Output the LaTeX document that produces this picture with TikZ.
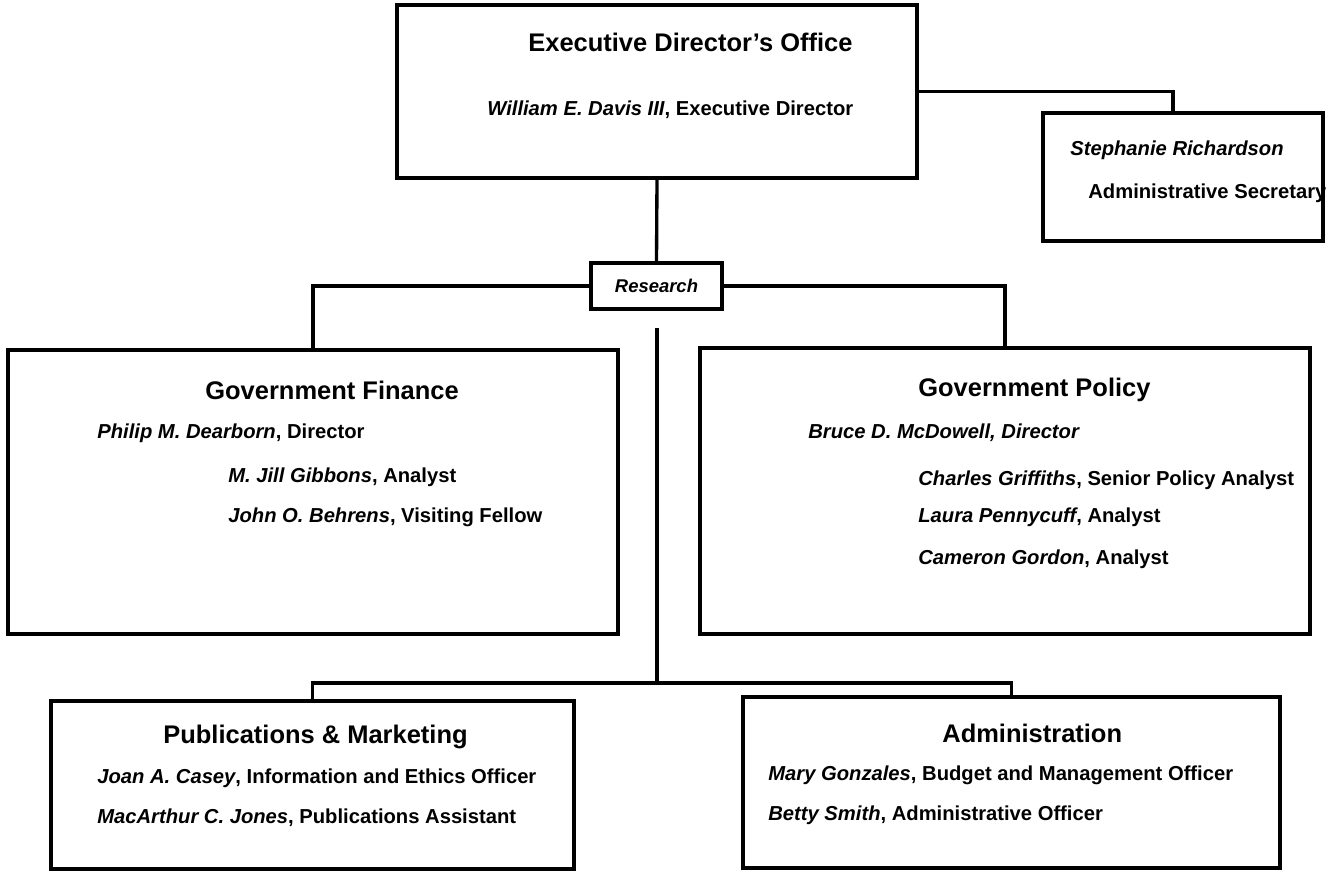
\documentclass[tikz,border=0pt]{standalone}
\usepackage{fontspec}
\setmainfont{Liberation Sans}
\begin{document}
\begin{tikzpicture}[
	x=0.02cm, y=-0.02cm,
	unit/.style={shape=rectangle, draw=black, line width=2.1pt, inner sep=0pt},
	head/.style={anchor=west, inner sep=0pt, font=\bfseries\fontsize{14.5}{17}\selectfont},
	staff/.style={anchor=west, inner sep=0pt, font=\bfseries\fontsize{11.5}{14}\selectfont},
	link/.style={line width=1.9pt},
]
\useasboundingbox (0,0) rectangle (1332,871);

\node[unit, minimum width=10.4cm, minimum height=3.46cm] (exec) at (657,91.5) {};
\node[unit, minimum width=5.6cm, minimum height=2.56cm] (sec) at (1183,177) {};
\node[unit, minimum width=2.62cm, minimum height=0.92cm, font=\bfseries\itshape\fontsize{10.5}{12}\selectfont] (research) at (656.5,286) {Research};
\node[unit, minimum width=12.2cm, minimum height=5.68cm] (govfin) at (313,492) {};
\node[unit, minimum width=12.2cm, minimum height=5.72cm] (govpol) at (1005,491) {};
\node[unit, minimum width=10.46cm, minimum height=3.36cm] (pub) at (312.5,785) {};
\node[unit, minimum width=10.74cm, minimum height=3.42cm] (admin) at (1011.5,782.5) {};

\node[head] (exectitle) at (528,42) {Executive Director's Office};
\node[staff] (exec1) at (487,110) {\textit{William E. Davis III}, Executive Director};
\node[staff] (sec1) at (1070,150) {\textit{Stephanie Richardson}};
\node[staff] (sec2) at (1088,193) {Administrative Secretary};

\node[head] (fintitle) at (205,390) {Government Finance};
\node[staff] (fin1) at (97,433) {\textit{Philip M. Dearborn}, Director};
\node[staff] (fin2) at (228,477) {\textit{M. Jill Gibbons}, Analyst};
\node[staff] (fin3) at (228,517) {\textit{John O. Behrens}, Visiting Fellow};

\node[head] (poltitle) at (918,390) {Government Policy};
\node[staff] (pol1) at (808,433) {\textit{Bruce D. McDowell, Director}};
\node[staff] (pol2) at (918,480) {\textit{Charles Griffiths}, Senior Policy Analyst};
\node[staff] (pol3) at (918,517) {\textit{Laura Pennycuff}, Analyst};
\node[staff] (pol4) at (918,559) {\textit{Cameron Gordon}, Analyst};

\node[head] (pubtitle) at (163,737) {Publications \& Marketing};
\node[staff] (pub1) at (97,778) {\textit{Joan A. Casey}, Information and Ethics Officer};
\node[staff] (pub2) at (97,818) {\textit{MacArthur C. Jones}, Publications Assistant};

\node[head] (admintitle) at (942,733) {Administration};
\node[staff] (admin1) at (768,775) {\textit{Mary Gonzales}, Budget and Management Officer};
\node[staff] (admin2) at (768,815) {\textit{Betty Smith}, Administrative Officer};

\coordinate (split) at (657,328);
\coordinate (hub) at (657,683);

\draw[link] (exec.south) -- (research.north);
\draw[link] (exec.east) -| ([xshift=-0.2cm]sec.north);
\draw[link] (govfin.north) |- (research.west);
\draw[link] (govpol.north) |- (research.east);
\draw[link] (split) -- (hub);
\draw[link] (pub.north) |- (hub) -| (admin.north);
\end{tikzpicture}
\end{document}
